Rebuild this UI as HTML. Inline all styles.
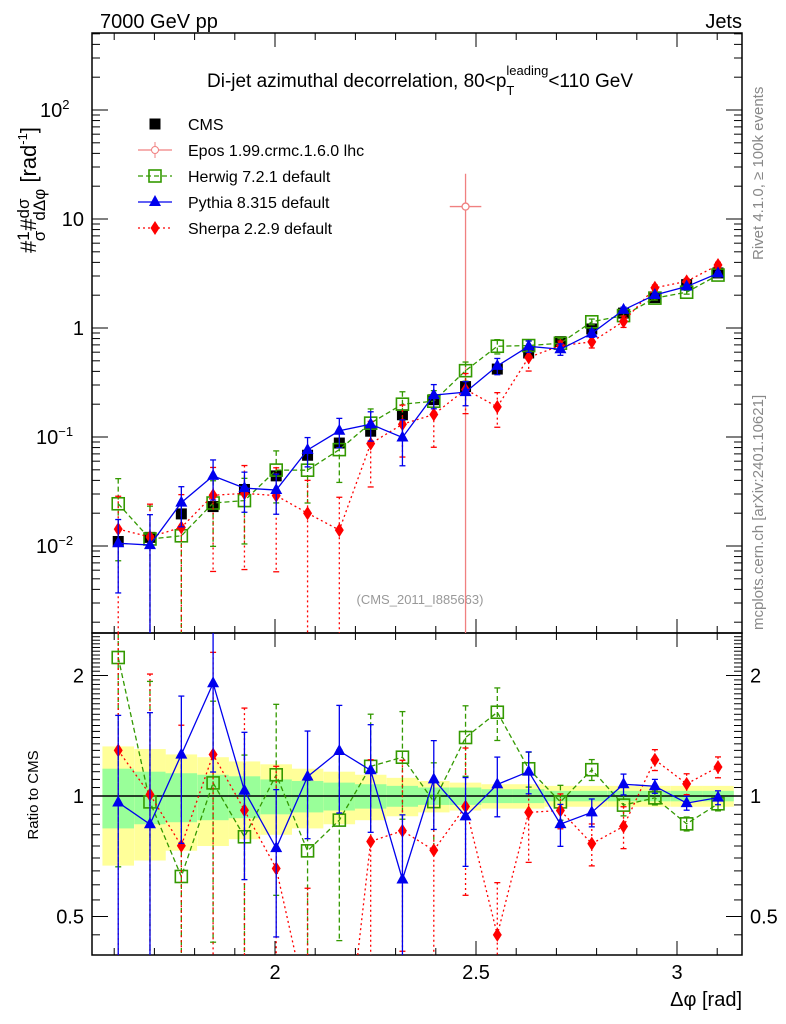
<!DOCTYPE html>
<html><head><meta charset="utf-8"><style>
html,body{margin:0;padding:0;background:#fff;overflow:hidden;width:786px;height:1024px}
svg{display:block;font-family:"Liberation Sans",sans-serif}
</style></head><body>
<svg id="chart" width="786" height="1024" viewBox="0 0 786 1024" xmlns="http://www.w3.org/2000/svg">
<text x="100" y="28" font-size="20">7000 GeV pp</text>
<text x="742" y="28" font-size="20" text-anchor="end">Jets</text>
<text x="420" y="87" font-size="19" text-anchor="middle">Di-jet azimuthal decorrelation, 80&lt;p<tspan font-size="13" dy="8">T</tspan><tspan font-size="13" dx="-8" dy="-20">leading</tspan><tspan dy="12">&lt;110 GeV</tspan></text>
<text x="420" y="604" font-size="13" fill="#999" text-anchor="middle">(CMS_2011_I885663)</text>
<text transform="translate(763,260) rotate(-90)" font-size="15" fill="#888">Rivet 4.1.0, ≥ 100k events</text>
<text transform="translate(763,630) rotate(-90)" font-size="15" fill="#888">mcplots.cern.ch [arXiv:2401.10621]</text>
<g font-size="22">
<text transform="translate(36,190) rotate(-90)" text-anchor="middle">#<tspan font-size="17" dy="-7">1</tspan><tspan dx="-10" dy="16" font-size="17">σ</tspan><tspan dy="-9">#</tspan><tspan font-size="17" dy="-7">dσ</tspan><tspan font-size="17" dx="-22" dy="16">dΔφ</tspan><tspan dy="-9"> [rad</tspan><tspan font-size="13" dy="-9">-1</tspan><tspan dy="9">]</tspan></text>
</g>
<text transform="translate(38,795) rotate(-90)" font-size="15" text-anchor="middle">Ratio to CMS</text>
<text x="742" y="1006" font-size="20" text-anchor="end">Δφ [rad]</text>
<g id="bands"></g><g id="axes"></g><g id="series"></g><g id="legend"></g>
</svg>
<script>
const binCenters=[1.610,1.689,1.767,1.846,1.924,2.003,2.081,2.160,2.238,2.317,2.395,2.474,2.553,2.631,2.710,2.788,2.867,2.945,3.024,3.102];
const cmsVals=[0.011,0.012,0.0197,0.023,0.033,0.044,0.068,0.088,0.113,0.16,0.22,0.29,0.42,0.59,0.75,0.98,1.37,1.9,2.5,3.2];
const pythiaVals=[0.0106,0.0102,0.025,0.044,0.034,0.0326,0.076,0.114,0.131,0.099,0.242,0.258,0.449,0.679,0.638,0.892,1.466,2.01,2.40,3.17];
const herwigVals=[0.0244,0.0116,0.0124,0.0248,0.0261,0.0497,0.0496,0.0766,0.134,0.2,0.213,0.406,0.68,0.69,0.725,1.14,1.30,1.88,2.13,3.06];
const sherpaVals=[0.0143,0.0121,0.0148,0.0292,0.0304,0.029,0.02,0.014,0.087,0.131,0.161,0.273,0.189,0.537,0.69,0.745,1.15,2.34,2.68,3.78];
const pythiaRelErr=[0.65,0.9,0.4,0.4,0.4,0.4,0.3,0.3,0.3,0.45,0.25,0.25,0.17,0.12,0.12,0.08,0.06,0.04,0.04,0.04];
const herwigRelErr=[0.7,1.0,1.0,0.6,0.6,0.5,0.5,0.5,0.35,0.3,0.25,0.2,0.15,0.1,0.1,0.06,0.06,0.04,0.04,0.04];
const sherpaRelErr=[1,1,1,0.8,0.8,0.8,1,1,0.6,0.5,0.5,0.4,0.35,0.25,0.1,0.12,0.12,0.06,0.06,0.06];
const cmsTotErr=[0.33,0.31,0.27,0.25,0.22,0.2,0.17,0.15,0.13,0.11,0.09,0.08,0.07,0.07,0.06,0.06,0.06,0.06,0.06,0.06];
const cmsStatErr=[0.17,0.15,0.14,0.13,0.12,0.1,0.09,0.08,0.07,0.06,0.05,0.05,0.04,0.04,0.03,0.03,0.03,0.03,0.03,0.03];
const eposX=[2.474], eposVals=[13], eposErrUp=[26];
const xTicks=[2,2.5,3], xTickLabels=["2","2.5","3"];
const yTicks=[0.01,0.1,1,10,100];
const rTicks=[0.5,1,2], rTickLabels=["0.5","1","2"];

const NS="http://www.w3.org/2000/svg";
const L=92,R=742,T=33,MB=633,RB=955,BW=0.0785;
const X=v=>275+(v-2)*402;
const Y=v=>546-(Math.log10(v)+2)*109;
const RY=v=>796-Math.log2(v)*120.5;
function mk(p,tag,a){const e=document.createElementNS(NS,tag);for(const k in a)e.setAttribute(k,a[k]);p.appendChild(e);return e;}
const clampM=y=>Math.max(T,Math.min(MB,y)), clampR=y=>Math.max(MB,Math.min(RB,y));
const bands=document.getElementById('bands'),axes=document.getElementById('axes'),ser=document.getElementById('series'),leg=document.getElementById('legend');

binCenters.forEach((c,i)=>{
  const x0=X(c-BW/2),x1=X(c+BW/2);
  let r=mk(bands,'rect',{x:x0,y:RY(1+cmsTotErr[i]),width:x1-x0,height:RY(1-cmsTotErr[i])-RY(1+cmsTotErr[i]),fill:'#ffff99'});
  
  
  let g=mk(bands,'rect',{x:x0,y:RY(1+cmsStatErr[i]),width:x1-x0,height:RY(1-cmsStatErr[i])-RY(1+cmsStatErr[i]),fill:'#99ff99'});
  
  
});
mk(axes,'line',{x1:L,x2:R,y1:RY(1),y2:RY(1),stroke:'#000','stroke-width':1.5});
mk(axes,'rect',{x:L,y:T,width:R-L,height:MB-T,fill:'none',stroke:'#000','stroke-width':1.5});
mk(axes,'rect',{x:L,y:MB,width:R-L,height:RB-MB,fill:'none',stroke:'#000','stroke-width':1.5});
for(let v=1.6;v<=3.15;v+=0.1){const x=X(v);const maj=Math.abs(v*2-Math.round(v*2))<0.01;const l=maj?14:7;
 [[T,T+l],[MB,MB-l],[MB,MB+l],[RB,RB-l]].forEach(p=>mk(axes,'line',{x1:x,x2:x,y1:p[0],y2:p[1],stroke:'#000'}));}
xTicks.forEach((v,i)=>{const t=mk(axes,'text',{x:X(v),y:RB+24,'font-size':20,'text-anchor':'middle'});t.textContent=xTickLabels[i];
 
 });
for(let e=-3;e<=2;e++)for(let m=1;m<10;m++){const v=m*Math.pow(10,e);const y=Y(v);if(y<T||y>MB)continue;const l=m==1?16:8;
 mk(axes,'line',{x1:L,x2:L+l,y1:y,y2:y,stroke:'#000'});mk(axes,'line',{x1:R,x2:R-l,y1:y,y2:y,stroke:'#000'});}
const ylab=['10<tspan font-size="13" dy="-8">−2</tspan>','10<tspan font-size="13" dy="-8">−1</tspan>','1','10','10<tspan font-size="13" dy="-8">2</tspan>'];
yTicks.forEach((v,i)=>{const t=mk(axes,'text',{x:L-8,y:Y(v)+7,'font-size':20,'text-anchor':'end'});
 if(i==0||i==1){t.setAttribute('x',36);t.setAttribute('text-anchor','start');}
 if(i==4){t.setAttribute('x',40);t.setAttribute('text-anchor','start');}
 t.innerHTML=ylab[i];
 
 });
for(let v=0.35;v<=2.5;v+=0.05){const y=RY(v);const maj=rTicks.some(t=>Math.abs(t-v)<0.01);const l=maj?16:8;
 if(y<MB||y>RB)continue;mk(axes,'line',{x1:L,x2:L+l,y1:y,y2:y,stroke:'#000'});mk(axes,'line',{x1:R,x2:R-l,y1:y,y2:y,stroke:'#000'});}
rTicks.forEach((v,i)=>{[[L-8,'end'],[R+8,'start']].forEach(s=>{const t=mk(axes,'text',{x:s[0],y:RY(v)+7,'font-size':20,'text-anchor':s[1]});t.textContent=rTickLabels[i];
 
 });});

function marker(g,type,x,y,col){
 if(type=='sq')mk(g,'rect',{x:x-5.5,y:y-5.5,width:11,height:11,fill:'#000'});
 if(type=='osq')mk(g,'rect',{x:x-6,y:y-6,width:12,height:12,fill:'none',stroke:col,'stroke-width':1.6});
 if(type=='tri')mk(g,'polygon',{points:`${x},${y-7} ${x-6},${y+4} ${x+6},${y+4}`,fill:col});
 if(type=='dia')mk(g,'polygon',{points:`${x},${y-7} ${x+4.5},${y} ${x},${y+7} ${x-4.5},${y}`,fill:col});
}
// clip a segment to y range [lo,hi]; returns null or [x1,y1,x2,y2]
function clipSeg(x1,y1,x2,y2,lo,hi){
 let t0=0,t1=1;const dy=y2-y1;
 if(dy===0){if(y1<lo||y1>hi)return null;}
 else{let ta=(lo-y1)/dy,tb=(hi-y1)/dy;if(ta>tb){const s=ta;ta=tb;tb=s;}t0=Math.max(t0,ta);t1=Math.min(t1,tb);if(t0>t1)return null;}
 return [x1+(x2-x1)*t0,y1+dy*t0,x1+(x2-x1)*t1,y1+dy*t1];
}
function drawSeries(name,vals,err,col,dash,type,ratio){
 const g=mk(ser,'g',{});
 
 
 const yf=ratio?RY:Y, cl=ratio?clampR:clampM, lo=ratio?MB:T, hi=ratio?RB:MB;
 const v2=vals.map((v,i)=>ratio?v/cmsVals[i]:v);
 let d='';let lastEnd=null;
 for(let i=0;i+1<v2.length;i++){
  const s=clipSeg(X(binCenters[i]),yf(v2[i]),X(binCenters[i+1]),yf(v2[i+1]),lo,hi);
  if(!s){lastEnd=null;continue;}
  if(!lastEnd||Math.abs(lastEnd[0]-s[0])>0.01||Math.abs(lastEnd[1]-s[1])>0.01)d+='M'+s[0].toFixed(2)+','+s[1].toFixed(2);
  d+='L'+s[2].toFixed(2)+','+s[3].toFixed(2);lastEnd=[s[2],s[3]];
 }
 mk(g,'path',{d,fill:'none',stroke:col,'stroke-width':1.3,'stroke-dasharray':dash});
 v2.forEach((v,i)=>{const x=X(binCenters[i]);const e=err[i];
  const y1=cl(yf(v*(1+e))),y2=e>=1?hi:cl(yf(v*(1-e)));
  if(y2>y1)mk(g,'line',{x1:x,x2:x,y1:y1,y2:y2,stroke:col,'stroke-width':1.3,'stroke-dasharray':dash});
  [y1,y2].forEach(y=>{if(y>lo+1&&y<hi-1)mk(g,'line',{x1:x-3,x2:x+3,y1:y,y2:y,stroke:col,'stroke-width':1.3});});
  const yy=yf(v);if(yy>lo&&yy<hi)marker(g,type,x,yy,col);});
}
const cg=mk(ser,'g',{});


cmsVals.forEach((v,i)=>marker(cg,'sq',X(binCenters[i]),Y(v),'#000'));
const eg=mk(ser,'g',{});


eposX.forEach((c,i)=>{const x=X(c),y=Y(eposVals[i]);
 mk(eg,'line',{x1:x,x2:x,y1:Y(eposErrUp[i]),y2:MB,stroke:'#f08080','stroke-width':1.3});
 mk(eg,'line',{x1:X(c-BW/2),x2:X(c+BW/2),y1:y,y2:y,stroke:'#f08080','stroke-width':1.3});
 mk(eg,'circle',{cx:x,cy:y,r:3.5,fill:'#fff',stroke:'#f08080','stroke-width':1.3});});
drawSeries('herwig',herwigVals,herwigRelErr,'#339900','5,3','osq',false);
drawSeries('sherpa',sherpaVals,sherpaRelErr,'#ff0000','2,3','dia',false);
drawSeries('pythia',pythiaVals,pythiaRelErr,'#0000ee','','tri',false);
drawSeries('herwig',herwigVals,herwigRelErr,'#339900','5,3','osq',true);
drawSeries('sherpa',sherpaVals,sherpaRelErr,'#ff0000','2,3','dia',true);
drawSeries('pythia',pythiaVals,pythiaRelErr,'#0000ee','','tri',true);
const items=[['CMS','sq','#000',''],['Epos 1.99.crmc.1.6.0 lhc','ep','#f08080',''],['Herwig 7.2.1 default','osq','#339900','5,3'],['Pythia 8.315 default','tri','#0000ee',''],['Sherpa 2.2.9 default','dia','#ff0000','2,3']];
items.forEach((it,i)=>{const y=124+i*26;const g=mk(leg,'g',{});
 
 
 if(it[1]!='sq')mk(g,'line',{x1:138,x2:172,y1:y,y2:y,stroke:it[2],'stroke-width':1.3,'stroke-dasharray':it[3]});
 if(it[1]=='ep'){mk(g,'line',{x1:155,x2:155,y1:y-8,y2:y+8,stroke:it[2]});mk(g,'circle',{cx:155,cy:y,r:3.5,fill:'#fff',stroke:it[2]});}
 else marker(g,it[1],155,y,it[2]);
 const t=mk(g,'text',{x:188,y:y+6,'font-size':16});t.textContent=it[0];});
</script>
</body></html>
